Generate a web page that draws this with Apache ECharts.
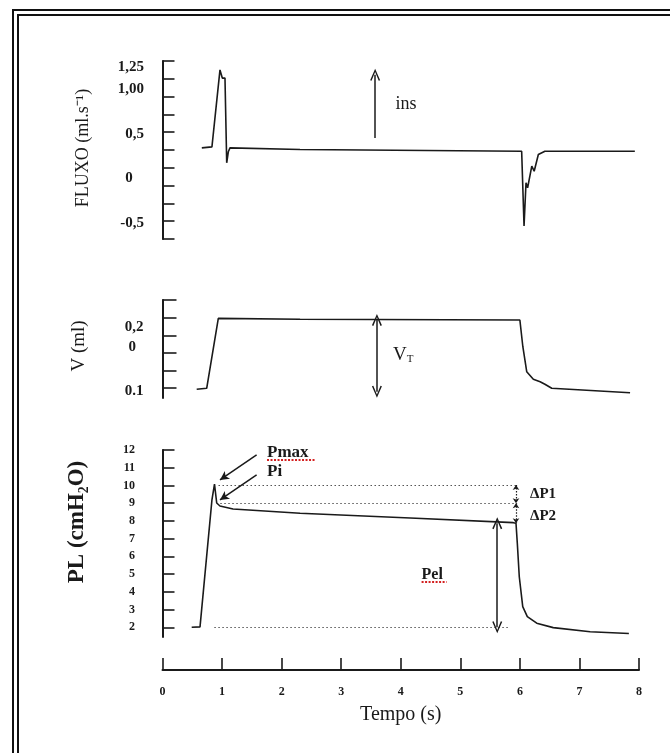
<!DOCTYPE html>
<html>
<head>
<meta charset="utf-8">
<script src="https://cdn.jsdelivr.net/npm/echarts@6/dist/echarts.min.js"></script>
<style>
html,body{margin:0;padding:0;background:#fff;}
#chart{width:670px;height:753px;}
</style>
</head>
<body>
<div id="chart"></div>
<script>
// ---------- DATA ----------
const timeTicks = [0, 1, 2, 3, 4, 5, 6, 7, 8];

// Flow panel (FLUXO)
const flowT = [0.66, 0.83, 0.965, 1.004, 1.049, 1.078, 1.105, 1.133, 2.31, 6.03, 6.07, 6.103, 6.13, 6.2, 6.24, 6.31, 6.42, 7.93];
const flowV = [0.344, 0.355, 1.22, 1.128, 1.128, 0.176, 0.30, 0.344, 0.325, 0.306, -0.534, -0.048, -0.104, 0.138, 0.082, 0.269, 0.306, 0.306];
const flowTickValues = [-0.68, -0.48, -0.28, -0.08, 0.12, 0.32, 0.52, 0.72, 0.92, 1.12, 1.32];
const flowLabelValues = [-0.5, 0, 0.5, 1.0, 1.25];
const flowLabelText = ['-0,5', '0', '0,5', '1,00', '1,25'];

// Volume panel (V)
const volT = [0.574, 0.742, 0.937, 2.31, 6.0, 6.05, 6.115, 6.226, 6.34, 6.42, 6.535, 7.85];
const volV = [0.089, 0.099, 0.813, 0.803, 0.796, 0.523, 0.268, 0.191, 0.166, 0.14, 0.099, 0.054];
const volTickValues = [0.1, 0.28, 0.46, 0.64, 0.82, 1.0];
const volLabelValues = [0.07, 0.52, 0.72];
const volLabelText = ['0.1', '0', '0,2'];

// Pressure panel (PL)
const presT = [0.49, 0.63, 0.83, 0.873, 0.898, 0.91, 0.965, 1.184, 2.31, 4.16, 5.89, 5.935, 5.957, 5.99, 6.048, 6.125, 6.283, 6.56, 7.18, 7.83];
const presV = [2.0, 2.02, 9.18, 10.08, 10.08, 9.01, 8.84, 8.67, 8.43, 8.16, 7.9, 7.87, 6.74, 4.85, 3.16, 2.6, 2.23, 1.98, 1.75, 1.65];
const presTickValues = [2, 3, 4, 5, 6, 7, 8, 9, 10, 11, 12];

// Annotation levels
const pMax = 10.03, pI = 9.0, pEnd = 7.87, pBase = 2.0;

// ---------- CHART ----------
const serif = "'Liberation Serif','Times New Roman',serif";
const ink = '#1a1a1a';
const chevron = 'path://M0,11 L5,0 L10,11 L8.6,11.6 L5,3.2 L1.4,11.6 Z';
const gridLeft = 162.5, gridRight = 31;

function zip(a, b) { return a.map((v, i) => [v, b[i]]); }
function labelMap(values, texts, zeroPad) {
  return function (v) {
    for (let i = 0; i < values.length; i++) {
      if (Math.abs(values[i] - v) < 1e-6) return texts[i] === '0' ? '0' + zeroPad : texts[i];
    }
    return '';
  };
}

const chart = echarts.init(document.getElementById('chart'), null, {renderer: 'canvas'});

const hiddenX = (idx) => ({gridIndex: idx, type: 'value', min: 0, max: 8, show: false});

const option = {
  animation: false,
  backgroundColor: '#fff',
  grid: [
    {left: gridLeft, right: gridRight, top: 61, height: 178},
    {left: gridLeft, right: gridRight, top: 300, height: 98},
    {left: gridLeft, right: gridRight, top: 450, height: 187}
  ],
  xAxis: [
    hiddenX(0),
    hiddenX(1),
    {
      gridIndex: 2, type: 'value', min: 0, max: 8, interval: 1,
      position: 'bottom', offset: 33,
      axisLine: {show: true, lineStyle: {color: ink, width: 2}},
      axisTick: {show: true, inside: true, length: 12, lineStyle: {color: ink, width: 1.6}},
      axisLabel: {margin: 16, color: ink, fontFamily: serif, fontWeight: 'bold', fontSize: 12,
        formatter: (v) => timeTicks.indexOf(v) >= 0 ? String(v) : ''},
      splitLine: {show: false},
      name: 'Tempo (s)', nameLocation: 'middle', nameGap: 35,
      nameTextStyle: {fontFamily: serif, fontSize: 20, color: ink}
    }
  ],
  yAxis: [
    {
      gridIndex: 0, type: 'value', min: -0.68, max: 1.32, offset: 7.5,
      axisLine: {show: true, lineStyle: {color: ink, width: 2}},
      axisTick: {show: true, inside: true, length: 12, customValues: flowTickValues, lineStyle: {color: ink, width: 1.6}},
      axisLabel: {margin: 11, color: ink, fontFamily: serif, fontWeight: 'bold', fontSize: 15,
        customValues: flowLabelValues, formatter: labelMap(flowLabelValues, flowLabelText, '   ')},
      splitLine: {show: false}
    },
    {
      gridIndex: 1, type: 'value', min: 0, max: 1, offset: 10,
      axisLine: {show: true, lineStyle: {color: ink, width: 2}},
      axisTick: {show: true, inside: true, length: 14, customValues: volTickValues, lineStyle: {color: ink, width: 1.6}},
      axisLabel: {margin: 9, color: ink, fontFamily: serif, fontWeight: 'bold', fontSize: 15,
        customValues: volLabelValues, formatter: labelMap(volLabelValues, volLabelText, '  ')},
      splitLine: {show: false}
    },
    {
      gridIndex: 2, type: 'value', min: 1.45, max: 12, offset: 12.5,
      axisLine: {show: true, lineStyle: {color: ink, width: 2}},
      axisTick: {show: true, inside: true, length: 12, customValues: presTickValues, lineStyle: {color: ink, width: 1.6}},
      axisLabel: {margin: 15, color: ink, fontFamily: serif, fontWeight: 'bold', fontSize: 12,
        customValues: presTickValues},
      splitLine: {show: false}
    }
  ],
  series: [
    {
      type: 'line', xAxisIndex: 0, yAxisIndex: 0, data: zip(flowT, flowV),
      showSymbol: false, symbol: 'none', lineStyle: {color: ink, width: 1.6},
      markLine: {
        silent: true, symbol: ['none', chevron], symbolSize: [10, 12],
        lineStyle: {color: ink, width: 1.5, type: 'solid'}, label: {show: false},
        data: [[{coord: [3.57, 0.456]}, {coord: [3.57, 1.165]}]]
      },
      markPoint: {
        silent: true, symbol: 'circle', symbolSize: 0,
        label: {show: true, color: ink, fontFamily: serif, fontSize: 18, position: 'inside'},
        data: [{coord: [4.09, 0.83], value: 'ins', label: {formatter: 'ins'}}]
      }
    },
    {
      type: 'line', xAxisIndex: 1, yAxisIndex: 1, data: zip(volT, volV),
      showSymbol: false, symbol: 'none', lineStyle: {color: ink, width: 1.6},
      markLine: {
        silent: true, symbol: [chevron, chevron], symbolSize: [10, 12],
        lineStyle: {color: ink, width: 1.5, type: 'solid'}, label: {show: false},
        data: [[{coord: [3.6, 0.064]}, {coord: [3.6, 0.796]}]]
      },
      markPoint: {
        silent: true, symbol: 'circle', symbolSize: 0,
        label: {show: true, position: 'inside', formatter: '{a|V}{b|T}',
          rich: {a: {fontFamily: serif, fontSize: 19, color: ink},
                 b: {fontFamily: serif, fontSize: 11, color: ink, verticalAlign: 'bottom', padding: [8, 0, 0, 0]}}},
        data: [{coord: [4.04, 0.44], value: 'VT'}]
      }
    },
    {
      type: 'line', xAxisIndex: 2, yAxisIndex: 2, data: zip(presT, presV),
      showSymbol: false, symbol: 'none', lineStyle: {color: ink, width: 1.6},
      markLine: {
        silent: true, symbol: 'none', label: {show: false},
        lineStyle: {color: '#555', width: 1.2, type: [1.5, 2.5]},
        data: [
          [{coord: [0.94, pMax]}, {coord: [5.935, pMax]}],
          [{coord: [0.97, pI]}, {coord: [5.935, pI]}],
          [{coord: [0.87, pBase]}, {coord: [5.8, pBase]}],
          // arrows
          [{coord: [1.58, 11.72], symbol: 'none', lineStyle: {color: ink, width: 1.5, type: 'solid'}},
           {coord: [0.965, 10.31], symbol: 'arrow', symbolSize: [7, 9]}],
          [{coord: [1.58, 10.6], symbol: 'none', lineStyle: {color: ink, width: 1.5, type: 'solid'}},
           {coord: [0.965, 9.18], symbol: 'arrow', symbolSize: [7, 9]}],
          [{coord: [5.62, pEnd], symbol: chevron, symbolSize: [10, 12], lineStyle: {color: ink, width: 1.5, type: 'solid'}},
           {coord: [5.62, pBase], symbol: chevron, symbolSize: [10, 12]}],
          [{coord: [5.935, pMax], symbol: 'arrow', symbolSize: [5, 5], lineStyle: {color: ink, width: 1.2, type: [1.5, 1.5]}},
           {coord: [5.935, pI], symbol: 'arrow', symbolSize: [5, 5]}],
          [{coord: [5.935, pI], symbol: 'arrow', symbolSize: [5, 5], lineStyle: {color: ink, width: 1.2, type: [1.5, 1.5]}},
           {coord: [5.935, pEnd], symbol: 'arrow', symbolSize: [5, 5]}],
          // red spell-check squiggles
          [{coord: [1.755, 11.47], lineStyle: {color: '#d42020', width: 2, type: [2, 1.5]}}, {coord: [2.56, 11.47]}],
          [{coord: [4.35, 4.57], lineStyle: {color: '#d42020', width: 2, type: [2, 1.5]}}, {coord: [4.77, 4.57]}]
        ]
      },
      markPoint: {
        silent: true, symbol: 'circle', symbolSize: 0,
        label: {show: true, position: 'right', distance: 0, color: ink, fontFamily: serif, fontWeight: 'bold', fontSize: 16},
        data: [
          {coord: [1.755, 11.83], value: 'Pmax', label: {formatter: 'Pmax', fontSize: 17}},
          {coord: [1.755, 10.76], value: 'Pi', label: {formatter: 'Pi', fontSize: 17}},
          {coord: [6.17, 9.52], value: 'ΔP1', label: {formatter: 'ΔP1', fontSize: 15}},
          {coord: [6.17, 8.28], value: 'ΔP2', label: {formatter: 'ΔP2', fontSize: 15}},
          {coord: [4.35, 4.95], value: 'Pel', label: {formatter: 'Pel', fontSize: 16}}
        ]
      }
    }
  ],
  graphic: [
    {type: 'polyline', silent: true, shape: {points: [[13, 753], [13, 10], [670, 10]]}, style: {stroke: '#111', lineWidth: 2, fill: null}},
    {type: 'polyline', silent: true, shape: {points: [[18, 753], [18, 15], [670, 15]]}, style: {stroke: '#111', lineWidth: 2, fill: null}},
    {type: 'text', silent: true, x: 83, y: 148, rotation: Math.PI / 2,
      style: {text: 'FLUXO (ml.s⁻¹)', fontFamily: serif, fontSize: 18, fill: ink, align: 'center', verticalAlign: 'middle'}},
    {type: 'text', silent: true, x: 79, y: 346, rotation: Math.PI / 2,
      style: {text: 'V (ml)', fontFamily: serif, fontSize: 19, fill: ink, align: 'center', verticalAlign: 'middle'}},
    {type: 'text', silent: true, x: 77, y: 522, rotation: Math.PI / 2,
      style: {text: 'PL (cmH₂O)', fontFamily: serif, fontWeight: 'bold', fontSize: 23, fill: ink, align: 'center', verticalAlign: 'middle'}}
  ]
};

chart.setOption(option);
</script>
</body>
</html>
